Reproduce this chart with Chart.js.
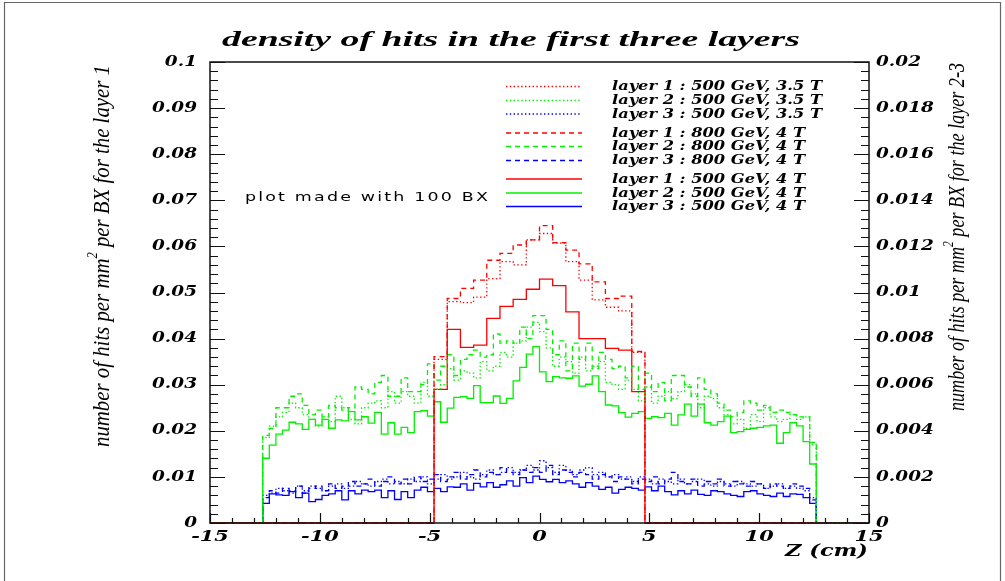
<!DOCTYPE html>
<html><head><meta charset="utf-8">
<script src="https://cdn.jsdelivr.net/npm/chart.js@4/dist/chart.umd.min.js"></script>
<style>html,body{margin:0;padding:0;background:#fff;overflow:hidden}canvas{display:block}</style>
</head><body>
<canvas id="c" width="1005" height="581"></canvas>
<script>
// ---------------- DATA ----------------
const zRange = [-15, 15];
// layer 1 histograms: bins of 0.6 cm, filled from z = -4.8 to 4.8
const layer1BinWidth = 0.6;
const layer1FirstEdge = -4.8;
// layers 2-3 histograms: bins of 0.3 cm, filled from z = -12.6 to 12.6
const layer23BinWidth = 0.3;
const layer23FirstEdge = -12.6;

const layer1_500GeV_35T = [0.0355, 0.048, 0.0478, 0.049, 0.053, 0.0567, 0.056, 0.0614, 0.0628, 0.0607, 0.0567, 0.0527, 0.0484, 0.0468, 0.046, 0.037];
const layer1_800GeV_4T  = [0.0361, 0.0487, 0.0509, 0.0527, 0.057, 0.0585, 0.0603, 0.0614, 0.0645, 0.0608, 0.0592, 0.0562, 0.0523, 0.0487, 0.0492, 0.0372];
const layer1_500GeV_4T  = [0.029, 0.042, 0.0381, 0.0386, 0.0444, 0.047, 0.0485, 0.0507, 0.0529, 0.0515, 0.0458, 0.040, 0.040, 0.0379, 0.0375, 0.0285];

const layer2_500GeV_35T = [
 0.0037, 0.0042, 0.0046, 0.0048, 0.0052, 0.0050, 0.0047, 0.0045, 0.0042, 0.0046, 0.0044, 0.0055, 0.0050, 0.0045, 0.0043, 0.0050, 0.0052, 0.0053, 0.0050, 0.0057, 0.0052,
 0.0057, 0.0055, 0.0052, 0.0061, 0.0055, 0.0058, 0.0060, 0.0067, 0.0062, 0.0066, 0.0065, 0.0063, 0.0070, 0.0066, 0.0068, 0.0074, 0.0072, 0.0078, 0.0079, 0.0085, 0.0087,
 0.0083, 0.0076, 0.0068, 0.0072, 0.0070, 0.0065, 0.0072, 0.0066, 0.0068, 0.0070, 0.0061, 0.0060, 0.0058, 0.0062, 0.0058, 0.0053, 0.0059, 0.0052, 0.0055, 0.0057, 0.0054,
 0.0057, 0.0060, 0.0056, 0.0050, 0.0055, 0.0054, 0.0050, 0.0047, 0.0043, 0.0045, 0.0041, 0.0047, 0.0044, 0.0050, 0.0046, 0.0044, 0.0045, 0.0047, 0.0045, 0.0046, 0.0034];
const layer2_800GeV_4T = [
 0.0038, 0.0041, 0.0050, 0.0050, 0.0055, 0.0056, 0.0051, 0.0047, 0.0049, 0.0046, 0.0051, 0.0050, 0.0049, 0.0050, 0.0059, 0.0058, 0.0056, 0.0061, 0.0064, 0.0055, 0.0055,
 0.0063, 0.0057, 0.0057, 0.0060, 0.0069, 0.0062, 0.0068, 0.0073, 0.0064, 0.0071, 0.0073, 0.0075, 0.0072, 0.0073, 0.0082, 0.0078, 0.0079, 0.0078, 0.0085, 0.0080, 0.0090,
 0.0090, 0.0084, 0.0073, 0.0079, 0.0066, 0.0078, 0.0071, 0.0078, 0.0067, 0.0074, 0.0071, 0.0067, 0.0068, 0.0063, 0.0068, 0.0058, 0.0065, 0.0057, 0.0061, 0.0053, 0.0064,
 0.0064, 0.0059, 0.0055, 0.0063, 0.0058, 0.0056, 0.0052, 0.0049, 0.0046, 0.0048, 0.0053, 0.0052, 0.0049, 0.0051, 0.0048, 0.0049, 0.0048, 0.0047, 0.0046, 0.0046, 0.0035];
const layer2_500GeV_4T = [
 0.00281, 0.00338, 0.00386, 0.00403, 0.00437, 0.0043, 0.00406, 0.0045, 0.00425, 0.0045, 0.00411, 0.00447, 0.00443, 0.00483, 0.00447, 0.00461, 0.00433, 0.0048, 0.00386, 0.00435, 0.00386,
 0.00415, 0.00392, 0.00483, 0.00487, 0.00464, 0.00526, 0.00437, 0.00498, 0.00545, 0.00548, 0.00541, 0.00596, 0.00522, 0.00522, 0.00551, 0.00519, 0.00541, 0.00617, 0.00675, 0.00733, 0.00765,
 0.00656, 0.00613, 0.00635, 0.0063, 0.00628, 0.00638, 0.00594, 0.00602, 0.00638, 0.0057, 0.00512, 0.00508, 0.00479, 0.00459, 0.00476, 0.00483, 0.00454, 0.00461, 0.00457, 0.00476, 0.00425,
 0.00469, 0.00516, 0.00464, 0.00516, 0.00435, 0.00425, 0.0044, 0.00464, 0.00392, 0.00396, 0.00406, 0.00411, 0.00415, 0.00421, 0.00425, 0.00346, 0.00392, 0.00435, 0.00421, 0.00353, 0.00256];

const layer3_500GeV_35T = [
 0.0012, 0.0013, 0.0015, 0.0014, 0.0013, 0.0016, 0.0014, 0.0016, 0.0015, 0.0014, 0.0016, 0.0017, 0.0015, 0.0016, 0.0018, 0.0017, 0.0016, 0.0018, 0.0019, 0.0017, 0.0018,
 0.0017, 0.0019, 0.0018, 0.0020, 0.0017, 0.0019, 0.0021, 0.0019, 0.0020, 0.0022, 0.0020, 0.0019, 0.0021, 0.0023, 0.0021, 0.0022, 0.0024, 0.0022, 0.0023, 0.0025, 0.0023,
 0.0027, 0.0024, 0.0022, 0.0025, 0.0023, 0.0021, 0.0023, 0.0024, 0.0021, 0.0022, 0.0020, 0.0021, 0.0019, 0.0020, 0.0018, 0.0020, 0.0019, 0.0017, 0.0019, 0.0018, 0.0017,
 0.0019, 0.0017, 0.0018, 0.0019, 0.0017, 0.0016, 0.0018, 0.0017, 0.0016, 0.0018, 0.0017, 0.0016, 0.0017, 0.0015, 0.0016, 0.0017, 0.0015, 0.0016, 0.0015, 0.0014, 0.0011];
const layer3_800GeV_4T = [
 0.0011, 0.0014, 0.0013, 0.0015, 0.0014, 0.0016, 0.0013, 0.0015, 0.0016, 0.0014, 0.0017, 0.0015, 0.0016, 0.0018, 0.0016, 0.0017, 0.0019, 0.0016, 0.0018, 0.0020, 0.0017,
 0.0019, 0.0017, 0.0020, 0.0018, 0.0019, 0.0021, 0.0018, 0.0020, 0.0022, 0.0019, 0.0021, 0.0023, 0.0020, 0.0022, 0.0021, 0.0024, 0.0022, 0.0021, 0.0023, 0.0022, 0.0024,
 0.0022, 0.0025, 0.0021, 0.0023, 0.0022, 0.0020, 0.0022, 0.0021, 0.0019, 0.0021, 0.0020, 0.0018, 0.0020, 0.0019, 0.0017, 0.0019, 0.0018, 0.0020, 0.0017, 0.0019, 0.0022,
 0.0018, 0.0017, 0.0019, 0.0016, 0.0018, 0.0017, 0.0019, 0.0016, 0.0018, 0.0017, 0.0016, 0.0018, 0.0017, 0.0015, 0.0017, 0.0016, 0.0015, 0.0017, 0.0016, 0.0015, 0.0010];
const layer3_500GeV_4T = [
 0.00085, 0.00126, 0.00122, 0.0012, 0.00136, 0.0011, 0.0013, 0.00093, 0.00102, 0.0012, 0.00126, 0.0014, 0.001, 0.0014, 0.00126, 0.00143, 0.00136, 0.00143, 0.0011, 0.0014, 0.00102,
 0.00136, 0.0011, 0.00143, 0.00155, 0.00136, 0.0015, 0.00136, 0.00157, 0.00155, 0.0017, 0.00143, 0.00172, 0.00157, 0.00175, 0.00155, 0.00166, 0.00183, 0.0016, 0.00197, 0.00175, 0.00203,
 0.00189, 0.00179, 0.00189, 0.00175, 0.00183, 0.0017, 0.00155, 0.00175, 0.0016, 0.00146, 0.00155, 0.0013, 0.00146, 0.00155, 0.0015, 0.00143, 0.00157, 0.0014, 0.0016, 0.00136, 0.00122,
 0.0014, 0.00126, 0.00143, 0.00124, 0.0012, 0.0014, 0.00136, 0.00126, 0.0012, 0.00115, 0.00136, 0.0014, 0.00126, 0.0012, 0.00115, 0.0013, 0.00115, 0.00126, 0.00124, 0.0011, 0.00085];

const seriesLabels = [
 'layer 1 : 500 GeV, 3.5 T', 'layer 2 : 500 GeV, 3.5 T', 'layer 3 : 500 GeV, 3.5 T',
 'layer 1 : 800 GeV, 4 T', 'layer 2 : 800 GeV, 4 T', 'layer 3 : 800 GeV, 4 T',
 'layer 1 : 500 GeV, 4 T', 'layer 2 : 500 GeV, 4 T', 'layer 3 : 500 GeV, 4 T'];

const xTickValues = [-15, -10, -5, 0, 5, 10, 15];
const xTickLabels = ['-15', '-10', '-5', '0', '5', '10', '15'];
const yLeftTickValues = [0, 0.01, 0.02, 0.03, 0.04, 0.05, 0.06, 0.07, 0.08, 0.09, 0.1];
const yLeftTickLabels = ['0', '0.01', '0.02', '0.03', '0.04', '0.05', '0.06', '0.07', '0.08', '0.09', '0.1'];
const yRightTickValues = [0, 0.002, 0.004, 0.006, 0.008, 0.01, 0.012, 0.014, 0.016, 0.018, 0.02];
const yRightTickLabels = ['0', '0.002', '0.004', '0.006', '0.008', '0.01', '0.012', '0.014', '0.016', '0.018', '0.02'];

const chartTitle = 'density of hits in the first three layers';
const xTitle = 'Z (cm)';
const yLeftTitle = ['number of hits per mm', '2', ' per BX for the layer 1'];
const yRightTitle = ['number of hits per mm', '2', ' per BX for the layer 2-3'];
const noteText = 'plot made with 100 BX';

// ---------------- histogram -> step points ----------------
function histPoints(values, firstEdge, width) {
  const pts = [{x: zRange[0], y: 0}];
  values.forEach((v, i) => pts.push({x: +(firstEdge + i * width).toFixed(4), y: v}));
  const lastEdge = +(firstEdge + values.length * width).toFixed(4);
  pts.push({x: lastEdge, y: 0});
  pts.push({x: zRange[1], y: 0});
  return pts;
}

const RED = '#ff0000', GREEN = '#00f000', BLUE = '#0000ff';
const DOT = [1.4, 2.4], DASH = [5, 4], SOLID = [];
const specs = [
  [layer1_500GeV_35T, 1, RED, DOT], [layer2_500GeV_35T, 2, GREEN, DOT], [layer3_500GeV_35T, 2, BLUE, DOT],
  [layer1_800GeV_4T, 1, RED, DASH], [layer2_800GeV_4T, 2, GREEN, DASH], [layer3_800GeV_4T, 2, BLUE, DASH],
  [layer1_500GeV_4T, 1, RED, SOLID], [layer2_500GeV_4T, 2, GREEN, SOLID], [layer3_500GeV_4T, 2, BLUE, SOLID]
];
const datasets = specs.map((s, i) => ({
  label: seriesLabels[i],
  data: s[1] === 1 ? histPoints(s[0], layer1FirstEdge, layer1BinWidth) : histPoints(s[0], layer23FirstEdge, layer23BinWidth),
  yAxisID: s[1] === 1 ? 'y' : 'y2',
  borderColor: s[2], borderDash: s[3], borderWidth: 1.3,
  stepped: 'before', pointRadius: 0, fill: false, clip: false
}));

// ---------------- drawing helpers ----------------
function fitText(ctx, text, x, y, font, targetW, align) {
  ctx.save(); ctx.font = font;
  const w = ctx.measureText(text).width;
  const s = targetW / w;
  ctx.translate(x, y); ctx.scale(s, 1);
  ctx.textAlign = align; ctx.textBaseline = 'middle';
  ctx.fillText(text, 0, 0);
  ctx.restore();
  return s;
}
function scaledText(ctx, text, x, y, font, s, align) {
  ctx.save(); ctx.font = font;
  ctx.translate(x, y); ctx.scale(s, 1);
  ctx.textAlign = align; ctx.textBaseline = 'middle';
  ctx.fillText(text, 0, 0);
  ctx.restore();
}
function verticalTitle(ctx, parts, cx, cy, length, size, thick) {
  ctx.save();
  const f = `italic ${size}px "Liberation Serif"`, fs = `italic ${Math.round(size*0.62)}px "Liberation Serif"`;
  ctx.font = f; const w1 = ctx.measureText(parts[0]).width, w3 = ctx.measureText(parts[2]).width;
  ctx.font = fs; const w2 = ctx.measureText(parts[1]).width;
  const total = w1 + w2 + w3;
  ctx.translate(cx, cy); ctx.scale(thick, 1); ctx.rotate(-Math.PI / 2); ctx.scale(length / total, 1);
  ctx.textBaseline = 'alphabetic'; ctx.textAlign = 'left';
  const base = size * 0.32;
  let x0 = -total / 2;
  ctx.font = f; ctx.fillText(parts[0], x0, base);
  ctx.font = fs; ctx.fillText(parts[1], x0 + w1, base - size * 0.5);
  ctx.font = f; ctx.fillText(parts[2], x0 + w1 + w2, base);
  ctx.restore();
}

const rootStyle = {
  id: 'rootStyle',
  afterDatasetsDraw(chart) {
    const {ctx, chartArea: a} = chart;
    const sx = chart.scales.x, sy = chart.scales.y, sy2 = chart.scales.y2;
    ctx.save();
    // page frame
    ctx.strokeStyle = '#666'; ctx.lineWidth = 1.2;
    ctx.beginPath(); ctx.moveTo(4.5, 581); ctx.lineTo(4.5, 2.5); ctx.lineTo(1000.5, 2.5); ctx.lineTo(1000.5, 581); ctx.stroke();
    // plot frame
    ctx.strokeStyle = '#111'; ctx.lineWidth = 1.5;
    ctx.strokeRect(a.left, a.top, a.right - a.left, a.bottom - a.top);
    // ticks (inside)
    ctx.lineWidth = 1.2; ctx.beginPath();
    for (let i = 0; i <= 30; i++) {
      const v = zRange[0] + i; const px = Math.round(sx.getPixelForValue(v)) + 0.5;
      const len = (v % 5 === 0) ? 10 : 5;
      ctx.moveTo(px, a.bottom); ctx.lineTo(px, a.bottom - len);
    }
    for (let i = 0; i <= 50; i++) {
      const py = Math.round(sy.getPixelForValue(i * 0.002)) + 0.5;
      const py2 = Math.round(sy2.getPixelForValue(i * 0.0004)) + 0.5;
      const len = (i % 5 === 0) ? 15 : 8;
      ctx.moveTo(a.left, py); ctx.lineTo(a.left + len, py);
      ctx.moveTo(a.right, py2); ctx.lineTo(a.right - len, py2);
    }
    ctx.stroke();
    // tick labels
    ctx.fillStyle = '#000';
    const tf = 'bold italic 14px "DejaVu Serif"';
    ctx.font = tf; const ys = 45 / ctx.measureText('0.09').width;
    yLeftTickValues.forEach((v, i) => scaledText(ctx, yLeftTickLabels[i], a.left - 13, sy.getPixelForValue(v), tf, ys, 'right'));
    yRightTickValues.forEach((v, i) => scaledText(ctx, yRightTickLabels[i], a.right + 7, sy2.getPixelForValue(v), tf, ys, 'left'));
    const xf = 'bold italic 15px "DejaVu Serif"';
    ctx.font = xf; const xs = 29 / ctx.measureText('10').width;
    xTickValues.forEach((v, i) => scaledText(ctx, xTickLabels[i], sx.getPixelForValue(v), 537, xf, xs, 'center'));
    fitText(ctx, xTitle, 868, 552, 'bold italic 16px "DejaVu Serif"', 83, 'right');
    // title
    fitText(ctx, chartTitle, 511, 40, 'bold italic 22px "Liberation Serif"', 578, 'center');
    // axis titles
    verticalTitle(ctx, yLeftTitle, 101, 256, 382, 20, 1.2);
    verticalTitle(ctx, yRightTitle, 957, 237, 348, 19, 1.2);
    // note
    ctx.save(); ctx.letterSpacing = '1.5px';
    fitText(ctx, noteText, 245, 198, '12px "DejaVu Sans"', 245, 'left');
    ctx.restore();
    // legend
    const rows = [86, 100, 113.5, 132.5, 146, 160, 178.5, 192.5, 206];
    const lf = 'bold italic 13px "DejaVu Serif"';
    ctx.font = lf; const ls = 210 / ctx.measureText(seriesLabels[0]).width;
    chart.data.datasets.forEach((d, i) => {
      const y = rows[i];
      ctx.save(); ctx.strokeStyle = d.borderColor; ctx.lineWidth = 1.3; ctx.setLineDash(d.borderDash);
      ctx.beginPath(); ctx.moveTo(506, y + 0.5); ctx.lineTo(582, y + 0.5); ctx.stroke(); ctx.restore();
      ctx.fillStyle = '#000';
      scaledText(ctx, d.label, 612, y + 1, lf, ls, 'left');
    });
    ctx.restore();
  }
};

const noScale = {ticks: {display: false}, grid: {display: false, drawTicks: false}, border: {display: false}};
new Chart(document.getElementById('c'), {
  type: 'line',
  data: {datasets},
  options: {
    responsive: false, animation: false, devicePixelRatio: 1,
    layout: {padding: {left: 210, right: 136, top: 62, bottom: 58}},
    plugins: {legend: {display: false}, title: {display: false}, tooltip: {enabled: false}},
    elements: {point: {radius: 0}, line: {tension: 0}},
    scales: {
      x: Object.assign({type: 'linear', min: zRange[0], max: zRange[1], afterFit(s) { s.height = 0; }}, noScale),
      y: Object.assign({type: 'linear', position: 'left', min: 0, max: 0.1, afterFit(s) { s.width = 0; }}, noScale),
      y2: Object.assign({type: 'linear', position: 'right', min: 0, max: 0.02, afterFit(s) { s.width = 0; }}, noScale)
    }
  },
  plugins: [rootStyle]
});
</script>
</body></html>
